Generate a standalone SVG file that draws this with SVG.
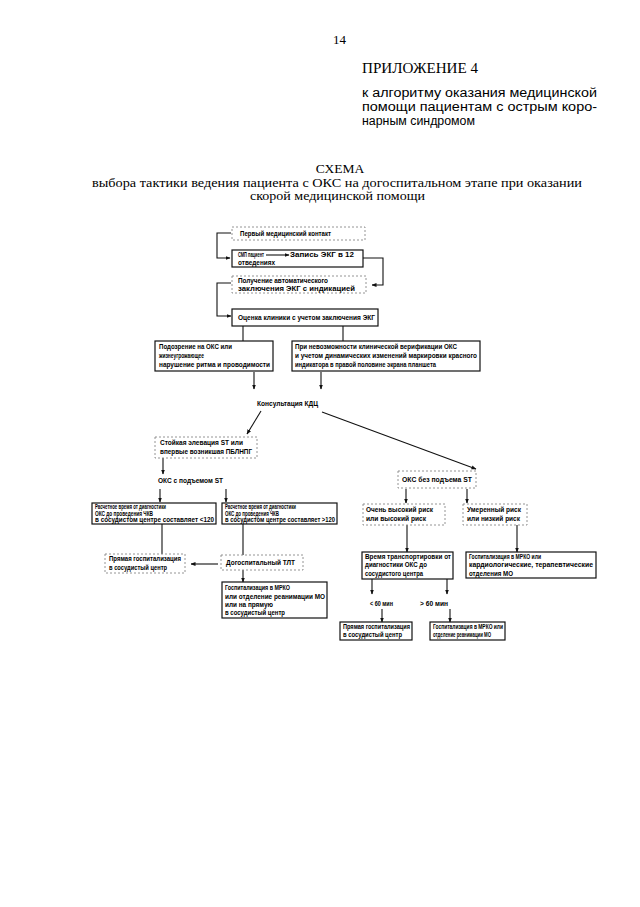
<svg xmlns="http://www.w3.org/2000/svg" width="640" height="907" viewBox="0 0 640 907">
<defs>
<marker id="ah" viewBox="0 0 10 10" refX="9" refY="5" markerWidth="5" markerHeight="5" orient="auto" markerUnits="userSpaceOnUse">
<path d="M0,1 L10,5 L0,9 z" fill="#111"/>
</marker>
<style>
.hd{font-family:"Liberation Serif","Times New Roman",serif;fill:#000}
.sub{font-family:"Liberation Sans",Arial,sans-serif;font-size:12px;fill:#000}
.t{font-family:"Liberation Sans Narrow","Liberation Sans",Arial,sans-serif;font-weight:bold;font-size:7px;fill:#000}
.bx{fill:none;stroke:#111;stroke-width:1.2}
.dx{fill:none;stroke:#888;stroke-width:0.9;stroke-dasharray:2 2}
.ln{fill:none;stroke:#111;stroke-width:1.1}
</style>
</defs>
<rect width="640" height="907" fill="#fff"/>

<g id="header">
<text class="hd" x="333" y="44" font-size="13">14</text>
<text class="hd" x="362" y="73" font-size="14" textLength="116" lengthAdjust="spacingAndGlyphs">ПРИЛОЖЕНИЕ 4</text>
<text class="sub" x="362" y="97" textLength="235" lengthAdjust="spacingAndGlyphs">к алгоритму оказания медицинской</text>
<text class="sub" x="362" y="111" textLength="235" lengthAdjust="spacingAndGlyphs">помощи пациентам с острым коро-</text>
<text class="sub" x="362" y="125" textLength="113" lengthAdjust="spacingAndGlyphs">нарным синдромом</text>
<text class="hd" x="340" y="173" font-size="13.5" text-anchor="middle">СХЕМА</text>
<text class="hd" x="92" y="187" font-size="12" textLength="490" lengthAdjust="spacingAndGlyphs">выбора тактики ведения пациента с ОКС на догоспитальном этапе при оказании</text>
<text class="hd" x="250" y="200" font-size="12" textLength="175" lengthAdjust="spacingAndGlyphs">скорой медицинской помощи</text>
</g>

<g id="connectors">
<polyline class="ln" points="231,233 217,233 217,258 230,258" marker-end="url(#ah)"/>
<polyline class="ln" points="363,258 383,258 383,285 372,285" marker-end="url(#ah)"/>
<polyline class="ln" points="231,283 217,283 217,316 231,316" marker-end="url(#ah)"/>
<line class="ln" x1="243" y1="326" x2="243" y2="341"/>
<line class="ln" x1="343" y1="326" x2="343" y2="341"/>
<line class="ln" x1="254" y1="372" x2="254" y2="389" marker-end="url(#ah)"/>
<line class="ln" x1="321" y1="372" x2="321" y2="389" marker-end="url(#ah)"/>
<line class="ln" x1="261" y1="411" x2="247" y2="434" marker-end="url(#ah)"/>
<line class="ln" x1="322" y1="412" x2="476" y2="469" marker-end="url(#ah)"/>
<line class="ln" x1="163" y1="458" x2="163" y2="474" marker-end="url(#ah)"/>
<line class="ln" x1="160" y1="489" x2="160" y2="502" marker-end="url(#ah)"/>
<line class="ln" x1="226" y1="489" x2="226" y2="502" marker-end="url(#ah)"/>
<line class="ln" x1="162" y1="524" x2="162" y2="554"/>
<line class="ln" x1="243" y1="524" x2="243" y2="555"/>
<line class="ln" x1="218" y1="564" x2="191" y2="564" marker-end="url(#ah)"/>
<line class="ln" x1="243" y1="570" x2="243" y2="582" marker-end="url(#ah)"/>
<line class="ln" x1="406" y1="489" x2="406" y2="503" marker-end="url(#ah)"/>
<line class="ln" x1="467" y1="489" x2="467" y2="503" marker-end="url(#ah)"/>
<line class="ln" x1="407" y1="525" x2="407" y2="552" marker-end="url(#ah)"/>
<line class="ln" x1="517" y1="525" x2="517" y2="552" marker-end="url(#ah)"/>
<line class="ln" x1="372" y1="579" x2="372" y2="594" marker-end="url(#ah)"/>
<line class="ln" x1="447" y1="579" x2="447" y2="594" marker-end="url(#ah)"/>
<line class="ln" x1="382" y1="609" x2="382" y2="622" marker-end="url(#ah)"/>
<line class="ln" x1="450" y1="609" x2="450" y2="622" marker-end="url(#ah)"/>
</g>

<g id="n1">
<rect class="dx" x="232" y="227" width="133" height="13"/>
<text class="t" x="240" y="236" textLength="91" lengthAdjust="spacingAndGlyphs">Первый медицинский контакт</text>
</g>
<g id="n2">
<rect class="bx" x="232" y="250" width="131" height="17"/>
<text class="t" x="238" y="257" textLength="26" lengthAdjust="spacingAndGlyphs">СМП пациент</text>
<line class="ln" x1="266" y1="255" x2="289" y2="255" marker-end="url(#ah)"/>
<text class="t" x="290" y="257" textLength="64" lengthAdjust="spacingAndGlyphs">Запись ЭКГ в 12</text>
<text class="t" x="238" y="265" textLength="37" lengthAdjust="spacingAndGlyphs">отведениях</text>
</g>
<g id="n3">
<rect class="dx" x="232" y="276" width="134" height="17"/>
<text class="t" x="238" y="283" textLength="90" lengthAdjust="spacingAndGlyphs">Получение автоматического</text>
<text class="t" x="238" y="291" textLength="117" lengthAdjust="spacingAndGlyphs">заключения ЭКГ с индикацией</text>
</g>
<g id="n4">
<rect class="bx" x="232" y="309" width="146" height="17"/>
<text class="t" x="238" y="320" textLength="137" lengthAdjust="spacingAndGlyphs">Оценка клиники с учетом заключения ЭКГ</text>
</g>
<g id="n5">
<rect class="bx" x="155" y="341" width="118" height="30"/>
<text class="t" x="159" y="349" textLength="73" lengthAdjust="spacingAndGlyphs">Подозрение на ОКС или</text>
<text class="t" x="159" y="358" textLength="45" lengthAdjust="spacingAndGlyphs">жизнеугрожающее</text>
<text class="t" x="159" y="367" textLength="111" lengthAdjust="spacingAndGlyphs">нарушение ритма и проводимости</text>
</g>
<g id="n6">
<rect class="bx" x="292" y="341" width="188" height="30"/>
<text class="t" x="295" y="349" textLength="162" lengthAdjust="spacingAndGlyphs">При невозможности клинической верификации ОКС</text>
<text class="t" x="295" y="358" textLength="182" lengthAdjust="spacingAndGlyphs">и учетом динамических изменений маркировки красного</text>
<text class="t" x="295" y="367" textLength="141" lengthAdjust="spacingAndGlyphs">индикатора в правой половине экрана планшета</text>
</g>
<g id="n7">
<text class="t" x="257" y="406" textLength="61" lengthAdjust="spacingAndGlyphs">Консультация КДЦ</text>
</g>
<g id="n8">
<rect class="dx" x="155" y="437" width="102" height="21"/>
<text class="t" x="160" y="445" textLength="83" lengthAdjust="spacingAndGlyphs">Стойкая элевация ST или</text>
<text class="t" x="160" y="454" textLength="92" lengthAdjust="spacingAndGlyphs">впервые возникшая ПБЛНПГ</text>
</g>
<g id="n9">
<text class="t" x="158" y="483" textLength="65" lengthAdjust="spacingAndGlyphs">ОКС с подъемом ST</text>
</g>
<g id="n10">
<rect class="bx" x="92" y="503" width="124" height="21"/>
<text class="t" x="95" y="509" font-size="6" textLength="71" lengthAdjust="spacingAndGlyphs">Расчетное время от диагностики</text>
<text class="t" x="95" y="515.5" font-size="6" textLength="58" lengthAdjust="spacingAndGlyphs">ОКС до проведения ЧКВ</text>
<text class="t" x="95" y="522" font-size="6" textLength="119" lengthAdjust="spacingAndGlyphs">в сосудистом центре составляет &lt;120</text>
</g>
<g id="n11">
<rect class="bx" x="222" y="503" width="115" height="21"/>
<text class="t" x="225" y="509" font-size="6" textLength="71" lengthAdjust="spacingAndGlyphs">Расчетное время от диагностики</text>
<text class="t" x="225" y="515.5" font-size="6" textLength="54" lengthAdjust="spacingAndGlyphs">ОКС до проведения ЧКВ</text>
<text class="t" x="225" y="522" font-size="6" textLength="110" lengthAdjust="spacingAndGlyphs">в сосудистом центре составляет &gt;120</text>
</g>
<g id="n12">
<rect class="dx" x="105" y="554" width="80" height="19"/>
<text class="t" x="109" y="561" textLength="72" lengthAdjust="spacingAndGlyphs">Прямая госпитализация</text>
<text class="t" x="109" y="570" textLength="58" lengthAdjust="spacingAndGlyphs">в сосудистый центр</text>
</g>
<g id="n13">
<rect class="dx" x="221" y="555" width="82" height="15"/>
<text class="t" x="226" y="565" textLength="69" lengthAdjust="spacingAndGlyphs">Догоспитальный ТЛТ</text>
</g>
<g id="n14">
<rect class="bx" x="222" y="582" width="105" height="36"/>
<text class="t" x="225" y="590" textLength="65" lengthAdjust="spacingAndGlyphs">Госпитализация в МРКО</text>
<text class="t" x="225" y="599" textLength="100" lengthAdjust="spacingAndGlyphs">или отделение реанимации МО</text>
<text class="t" x="225" y="607" textLength="48" lengthAdjust="spacingAndGlyphs">или на прямую</text>
<text class="t" x="225" y="615" textLength="60" lengthAdjust="spacingAndGlyphs">в сосудистый центр</text>
</g>
<g id="n15">
<rect class="dx" x="398" y="471" width="78" height="17"/>
<text class="t" x="402" y="482" textLength="70" lengthAdjust="spacingAndGlyphs">ОКС без подъема ST</text>
</g>
<g id="n16">
<rect class="dx" x="363" y="504" width="82" height="21"/>
<text class="t" x="366" y="512" textLength="67" lengthAdjust="spacingAndGlyphs">Очень высокий риск</text>
<text class="t" x="366" y="521" textLength="60" lengthAdjust="spacingAndGlyphs">или высокий риск</text>
</g>
<g id="n17">
<rect class="dx" x="463" y="504" width="64" height="21"/>
<text class="t" x="467" y="512" textLength="54" lengthAdjust="spacingAndGlyphs">Умеренный риск</text>
<text class="t" x="467" y="521" textLength="53" lengthAdjust="spacingAndGlyphs">или низкий риск</text>
</g>
<g id="n18">
<rect class="bx" x="362" y="552" width="91" height="27"/>
<text class="t" x="365" y="559" textLength="86" lengthAdjust="spacingAndGlyphs">Время транспортировки от</text>
<text class="t" x="365" y="567" textLength="62" lengthAdjust="spacingAndGlyphs">диагностики ОКС до</text>
<text class="t" x="365" y="576" textLength="58" lengthAdjust="spacingAndGlyphs">сосудистого центра</text>
</g>
<g id="n19">
<rect class="bx" x="466" y="552" width="130" height="26"/>
<text class="t" x="469" y="559" textLength="72" lengthAdjust="spacingAndGlyphs">Госпитализация в МРКО или</text>
<text class="t" x="469" y="567" textLength="124" lengthAdjust="spacingAndGlyphs">кардиологические, терапевтические</text>
<text class="t" x="469" y="576" textLength="44" lengthAdjust="spacingAndGlyphs">отделения  МО</text>
</g>
<g id="n20">
<text class="t" x="370" y="606" textLength="23" lengthAdjust="spacingAndGlyphs">&lt; 60 мин</text>
</g>
<g id="n21">
<text class="t" x="420" y="606" textLength="28" lengthAdjust="spacingAndGlyphs">&gt; 60 мин</text>
</g>
<g id="n22">
<rect class="bx" x="340" y="622" width="72" height="18"/>
<text class="t" x="343" y="629" textLength="67" lengthAdjust="spacingAndGlyphs">Прямая госпитализация</text>
<text class="t" x="343" y="637" textLength="59" lengthAdjust="spacingAndGlyphs">в сосудистый центр</text>
</g>
<g id="n23">
<rect class="bx" x="430" y="622" width="75" height="18"/>
<text class="t" x="433" y="629" textLength="70" lengthAdjust="spacingAndGlyphs">Госпитализация в МРКО или</text>
<text class="t" x="433" y="637" textLength="58" lengthAdjust="spacingAndGlyphs">отделение реанимации МО</text>
</g>
</svg>
